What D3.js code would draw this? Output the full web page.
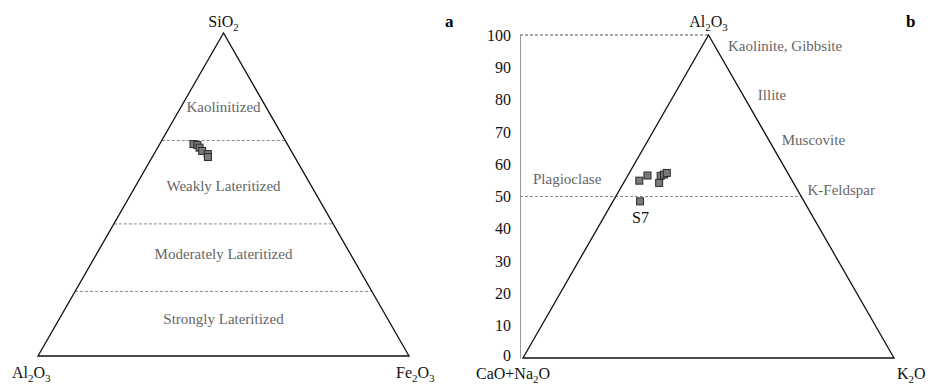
<!DOCTYPE html>
<html lang="en">
<head>
    <meta charset="UTF-8">
    <title>Ternary diagrams</title>
    <script src="https://d3js.org/d3.v7.js"></script>
    <style>
        body { margin: 0; background: #fff; }
        svg text { font-family: "Liberation Serif", "DejaVu Serif", serif; }
        .zone { fill: #666; font-size: 15px; text-anchor: middle; }
        .mineral { fill: #666; font-size: 15px; }
        .apex { fill: #111; font-size: 16px; }
        .panel { fill: #000; font-size: 17px; font-weight: bold; }
    </style>
</head>
<body>
<svg id="chart"></svg>
<script>
// Panel a: SiO2 - Al2O3 - Fe2O3 (fractions)
const aSiO2 = [0.656, 0.653, 0.645, 0.635, 0.625, 0.616];
const aFe2O3 = [0.091, 0.103, 0.113, 0.125, 0.145, 0.150];
const aZoneLimits = [0.667, 0.409, 0.20];
const aZones = [
    {name: "Kaolinitized", s: 0.77},
    {name: "Weakly Lateritized", s: 0.525},
    {name: "Moderately Lateritized", s: 0.315},
    {name: "Strongly Lateritized", s: 0.115}
];

// Panel b: Al2O3 - (CaO+Na2O) - K2O (percent)
const bAl2O3 = [54.9, 56.5, 54.2, 56.4, 56.8, 57.3, 48.5];
const bK2O = [3.9, 5.3, 9.6, 8.9, 9.6, 10.1, 7.3];
const bYTicks = [0, 10, 20, 30, 40, 50, 60, 70, 80, 90, 100];
const bMinerals = [
    {name: "Kaolinite, Gibbsite", al: 96.5, dx: 13},
    {name: "Illite", al: 81.5, dx: 15},
    {name: "Muscovite", al: 67.5, dx: 13},
    {name: "K-Feldspar", al: 52, dx: 10}
];

const W = 928, H = 389;
const svg = d3.select("#chart").attr("width", W).attr("height", H);

function ternary(x0, x1, yBase, yTop) {
    const xs = d3.scaleLinear().domain([0, 1]).range([x0, x1]);
    const ys = d3.scaleLinear().domain([0, 1]).range([yBase, yTop]);
    // top = fraction of apex component, right = fraction of bottom-right component
    return {
        xs, ys,
        x: (top, right) => xs(right + top / 2),
        y: top => ys(top)
    };
}

function drawTriangle(g, t) {
    g.append("path")
        .attr("d", d3.line()([[t.x(0, 0), t.y(0)], [t.x(1, 0), t.y(1)], [t.x(0, 1), t.y(0)]]) + "Z")
        .attr("fill", "none").attr("stroke", "#111").attr("stroke-width", 1.3);
}

function squares(g, pts) {
    g.selectAll("rect.pt").data(pts).join("rect")
        .attr("class", "pt")
        .attr("x", d => d[0] - 3.5).attr("y", d => d[1] - 3.5)
        .attr("width", 7).attr("height", 7)
        .attr("fill", "#7a7a7a").attr("stroke", "#2a2a2a").attr("stroke-width", 1);
}

function subText(g, x, y, parts, cls, anchor) {
    const t = g.append("text").attr("class", cls).attr("x", x).attr("y", y)
        .attr("text-anchor", anchor || "start");
    parts.forEach(p => {
        if (p.sub) t.append("tspan").attr("dy", 4).attr("font-size", 11).text(p.t);
        else t.append("tspan").attr("dy", p.up ? -4 : 0).text(p.t);
    });
    return t;
}

// ---------- panel a ----------
const ta = ternary(38, 409, 356, 33);
const ga = svg.append("g");

aZoneLimits.forEach(s => {
    ga.append("line")
        .attr("x1", ta.x(s, 0)).attr("x2", ta.x(s, 1 - s))
        .attr("y1", ta.y(s)).attr("y2", ta.y(s))
        .attr("stroke", "#888").attr("stroke-width", 1).attr("stroke-dasharray", "3,2");
});
drawTriangle(ga, ta);

ga.selectAll("text.zone").data(aZones).join("text")
    .attr("class", "zone")
    .attr("x", ta.xs(0.5)).attr("y", d => ta.y(d.s) + 5)
    .text(d => d.name);

squares(ga, aSiO2.map((s, i) => [ta.x(s, aFe2O3[i]), ta.y(s)]));

subText(ga, ta.xs(0.5), 27, [{t: "SiO"}, {t: "2", sub: true}], "apex", "middle");
subText(ga, 12, 378, [{t: "Al"}, {t: "2", sub: true}, {t: "O", up: true}, {t: "3", sub: true}], "apex");
subText(ga, 396, 378, [{t: "Fe"}, {t: "2", sub: true}, {t: "O", up: true}, {t: "3", sub: true}], "apex");
ga.append("text").attr("class", "panel").attr("x", 445).attr("y", 27).text("a");

// ---------- panel b ----------
const tb = ternary(523, 894, 358, 35);
const gb = svg.append("g");
const yAl = d3.scaleLinear().domain([0, 100]).range([358, 35]);

const yAxis = gb.append("g")
    .attr("transform", "translate(520,0)")
    .call(d3.axisLeft(yAl).tickValues(bYTicks).tickSize(0).tickPadding(9).tickFormat(d3.format("d")));
yAxis.select(".domain").attr("stroke", "#999");
yAxis.selectAll("text").attr("font-size", 16).attr("fill", "#111")
    .attr("font-family", "Liberation Serif, serif");
yAxis.selectAll(".tick").filter(d => d === 0).select("text").attr("dy", "0.15em");

// dashed guides at 100 and 50
gb.append("line").attr("x1", 520).attr("x2", tb.x(1, 0))
    .attr("y1", yAl(100)).attr("y2", yAl(100))
    .attr("stroke", "#555").attr("stroke-width", 1).attr("stroke-dasharray", "3,2");
gb.append("line").attr("x1", 520).attr("x2", tb.x(0.5, 0.5))
    .attr("y1", yAl(50)).attr("y2", yAl(50))
    .attr("stroke", "#888").attr("stroke-width", 1).attr("stroke-dasharray", "3,2");

drawTriangle(gb, tb);

gb.selectAll("text.mineral").data(bMinerals).join("text")
    .attr("class", "mineral")
    .attr("x", d => tb.x(d.al / 100, 1 - d.al / 100) + d.dx)
    .attr("y", d => yAl(d.al) + 5)
    .text(d => d.name);
gb.append("text").attr("class", "mineral").attr("x", 533).attr("y", yAl(54.5) + 2).text("Plagioclase");

const bPts = bAl2O3.map((a, i) => [tb.x(a / 100, bK2O[i] / 100), yAl(a)]);
squares(gb, bPts);
gb.append("text").attr("x", bPts[6][0] - 8).attr("y", bPts[6][1] + 22)
    .attr("font-size", 16).attr("fill", "#111").text("S7");

subText(gb, tb.xs(0.5), 27, [{t: "Al"}, {t: "2", sub: true}, {t: "O", up: true}, {t: "3", sub: true}], "apex", "middle");
subText(gb, 476, 379, [{t: "CaO+Na"}, {t: "2", sub: true}, {t: "O", up: true}], "apex");
subText(gb, 897, 379, [{t: "K"}, {t: "2", sub: true}, {t: "O", up: true}], "apex");
gb.append("text").attr("class", "panel").attr("x", 906).attr("y", 27).text("b");
</script>
</body>
</html>
